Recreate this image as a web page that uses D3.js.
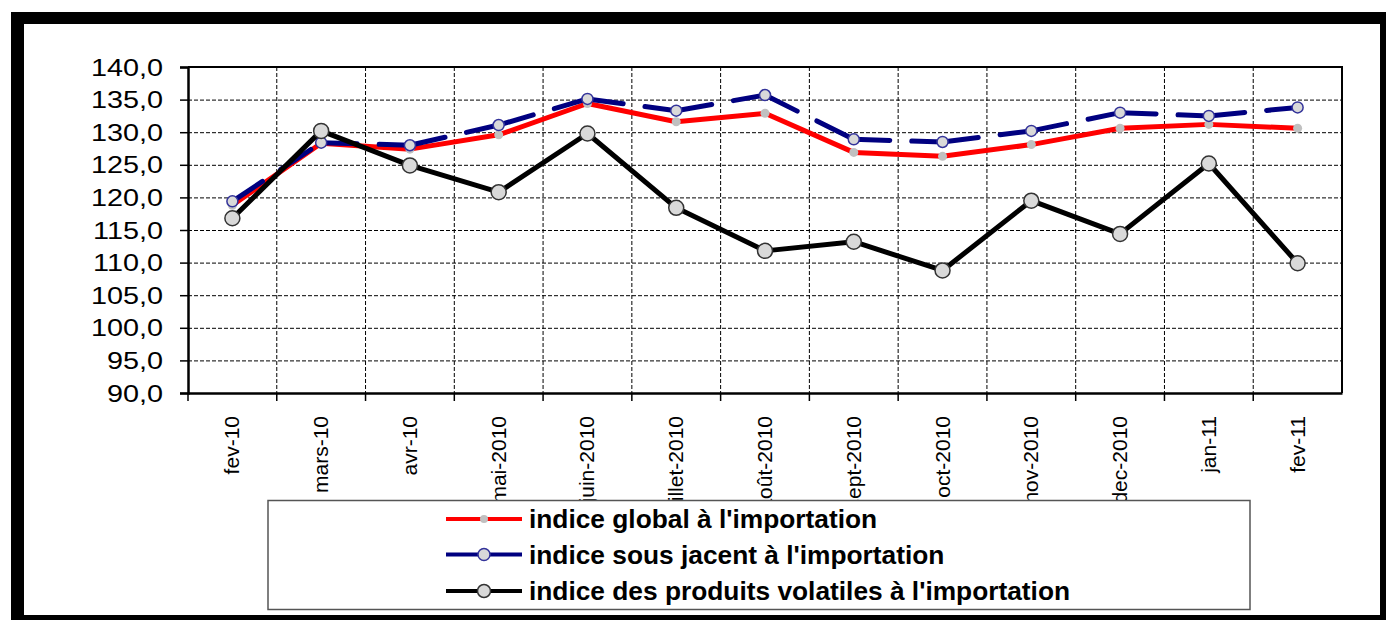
<!DOCTYPE html>
<html>
<head>
<meta charset="utf-8">
<script src="https://cdn.jsdelivr.net/npm/d3@7"></script>
<style>
  body { margin: 0; background: #fff; }
  svg { display: block; }
</style>
</head>
<body>
<div id="chart"></div>
<script>
// data
var categories = ["fev-10", "mars-10", "avr-10", "mai-2010", "juin-2010", "juillet-2010", "août-2010",
  "sept-2010", "oct-2010", "nov-2010", "dec-2010", "jan-11", "fev-11"];
var indiceGlobal = [118.8, 128.3, 127.4, 129.6, 134.4, 131.6, 132.9, 126.9, 126.3, 128.1, 130.6, 131.2, 130.6];
var indiceSousJacent = [119.4, 128.4, 128.0, 131.1, 135.1, 133.3, 135.7, 128.9, 128.5, 130.2, 133.0, 132.5, 133.8];
var indiceVolatiles = [116.8, 130.2, 124.9, 120.8, 129.8, 118.4, 111.8, 113.2, 108.8, 119.5, 114.4, 125.2, 109.9];
var yTicks = [90, 95, 100, 105, 110, 115, 120, 125, 130, 135, 140];
var seriesNames = ["indice global à l'importation", "indice sous jacent à l'importation",
  "indice des produits volatiles à l'importation"];

var width = 1386, height = 620;
var plot = {left: 188, top: 67, right: 1342, bottom: 393};

var fr = d3.formatLocale({decimal: ",", thousands: " ", grouping: [3], currency: ["", "€"]});
var fmt = fr.format(".1f");

var svg = d3.select('#chart').append('svg')
  .attr('width', width).attr('height', height);

// outer frame
svg.append('rect').attr('x', 11).attr('y', 12).attr('width', width - 11).attr('height', height - 12)
  .attr('fill', '#000');
svg.append('rect').attr('x', 24).attr('y', 24).attr('width', 1380 - 24).attr('height', 615 - 24)
  .attr('fill', '#fff');

var x = d3.scaleBand().domain(categories).range([plot.left, plot.right]);
var y = d3.scaleLinear().domain([90, 140]).range([plot.bottom, plot.top]);
var cx = function(i) { return x(categories[i]) + x.bandwidth() / 2; };

// horizontal gridlines
svg.append('g')
  .attr('transform', 'translate(' + plot.left + ',0)')
  .call(d3.axisLeft(y).tickValues(yTicks.slice(1)).tickSize(-(plot.right - plot.left)).tickFormat(''))
  .call(function(g) {
    g.select('.domain').remove();
    g.selectAll('line').attr('stroke', '#000').attr('stroke-width', 1).attr('stroke-dasharray', '4,2');
  });

// vertical gridlines at category boundaries
var bounds = categories.slice(1).map(function(c) { return x(c); });
svg.append('g').selectAll('line').data(bounds).enter().append('line')
  .attr('x1', function(d) { return d; }).attr('x2', function(d) { return d; })
  .attr('y1', plot.top).attr('y2', plot.bottom)
  .attr('stroke', '#000').attr('stroke-width', 1).attr('stroke-dasharray', '4,2');

// plot border top/right
svg.append('path')
  .attr('d', 'M' + plot.left + ',' + plot.top + 'H' + plot.right + 'V' + plot.bottom)
  .attr('fill', 'none').attr('stroke', '#000').attr('stroke-width', 2);

// y axis
var yAxis = svg.append('g')
  .attr('transform', 'translate(' + plot.left + ',0)')
  .call(d3.axisLeft(y).tickValues(yTicks).tickSize(8).tickPadding(0).tickFormat(fmt));
yAxis.select('.domain').attr('stroke', '#000').attr('stroke-width', 2.5);
yAxis.selectAll('line').attr('stroke', '#000').attr('stroke-width', 1.5);
yAxis.selectAll('text')
  .attr('x', null).attr('dy', null)
  .attr('transform', 'translate(-25,0) scale(1.2,1)')
  .attr('dominant-baseline', 'central')
  .style('font-family', 'Arial, "Liberation Sans", sans-serif')
  .style('font-size', '24px').style('fill', '#000');

// x axis
var xAxis = svg.append('g')
  .attr('transform', 'translate(0,' + plot.bottom + ')')
  .call(d3.axisBottom(x).tickSize(0).tickFormat(''));
xAxis.select('.domain').attr('stroke', '#000').attr('stroke-width', 2.5);
xAxis.selectAll('.tick').remove();
xAxis.selectAll('.bt').data([plot.left].concat(bounds)).enter().append('line')
  .attr('x1', function(d) { return d; }).attr('x2', function(d) { return d; })
  .attr('y1', 0).attr('y2', 8).attr('stroke', '#000').attr('stroke-width', 1.5);
xAxis.selectAll('.lbl').data(categories).enter().append('text')
  .attr('transform', function(d, i) { return 'translate(' + (cx(i) + 7) + ',23) rotate(-90)'; })
  .attr('text-anchor', 'end')
  .style('font-family', 'Arial, "Liberation Sans", sans-serif')
  .style('font-size', '21px').style('fill', '#000')
  .text(function(d) { return d; });

var line = d3.line()
  .x(function(d, i) { return cx(i); })
  .y(function(d) { return y(d); });

// series 1: red
svg.append('path').datum(indiceGlobal).attr('d', line)
  .attr('fill', 'none').attr('stroke', '#ff0000').attr('stroke-width', 5).attr('stroke-linejoin', 'round');
svg.append('g').selectAll('circle').data(indiceGlobal).enter().append('circle')
  .attr('cx', function(d, i) { return cx(i); }).attr('cy', function(d) { return y(d); })
  .attr('r', 4.5).attr('fill', '#c0c0c0');

// series 2: navy, dash pattern restarts on each segment
var segs = d3.pairs(indiceSousJacent.map(function(v, i) { return [cx(i), y(v)]; }));
svg.append('g').selectAll('path').data(segs).enter().append('path')
  .attr('d', function(d) { return d3.line()(d); })
  .attr('fill', 'none').attr('stroke', '#000080').attr('stroke-width', 5)
  .attr('stroke-linecap', 'round').attr('stroke-dasharray', '36,22');
svg.append('g').selectAll('circle').data(indiceSousJacent).enter().append('circle')
  .attr('cx', function(d, i) { return cx(i); }).attr('cy', function(d) { return y(d); })
  .attr('r', 5.5).attr('fill', '#d9d9d9').attr('stroke', '#33339a').attr('stroke-width', 1.5);

// series 3: black
svg.append('path').datum(indiceVolatiles).attr('d', line)
  .attr('fill', 'none').attr('stroke', '#000').attr('stroke-width', 5).attr('stroke-linejoin', 'round');
svg.append('g').selectAll('circle').data(indiceVolatiles).enter().append('circle')
  .attr('cx', function(d, i) { return cx(i); }).attr('cy', function(d) { return y(d); })
  .attr('r', 7.5).attr('fill', '#d9d9d9').attr('stroke', '#333').attr('stroke-width', 1.5);

// legend
var legend = svg.append('g');
legend.append('rect').attr('x', 268).attr('y', 500.5).attr('width', 982).attr('height', 109)
  .attr('fill', '#fff').attr('stroke', '#555').attr('stroke-width', 1.5);
var legendStyles = [
  {stroke: '#ff0000', r: 4, fill: '#c0c0c0', mstroke: 'none'},
  {stroke: '#000080', r: 6, fill: '#d9d9d9', mstroke: '#33339a'},
  {stroke: '#000', r: 6.5, fill: '#d9d9d9', mstroke: '#333'}
];
var legendY = [519, 554.5, 591];
var item = legend.selectAll('.item').data(seriesNames).enter().append('g')
  .attr('transform', function(d, i) { return 'translate(0,' + legendY[i] + ')'; });
item.append('line').attr('x1', 446).attr('x2', 522).attr('y1', 0).attr('y2', 0)
  .attr('stroke', function(d, i) { return legendStyles[i].stroke; }).attr('stroke-width', 4);
item.append('circle').attr('cx', 484).attr('cy', 0)
  .attr('r', function(d, i) { return legendStyles[i].r; })
  .attr('fill', function(d, i) { return legendStyles[i].fill; })
  .attr('stroke', function(d, i) { return legendStyles[i].mstroke; }).attr('stroke-width', 1.5);
item.append('text').attr('x', 529).attr('y', 0).attr('dominant-baseline', 'central')
  .style('font-family', 'Arial, "Liberation Sans", sans-serif')
  .style('font-size', '26.3px').style('font-weight', 'bold').style('fill', '#000')
  .text(function(d) { return d; });
</script>
</body>
</html>
